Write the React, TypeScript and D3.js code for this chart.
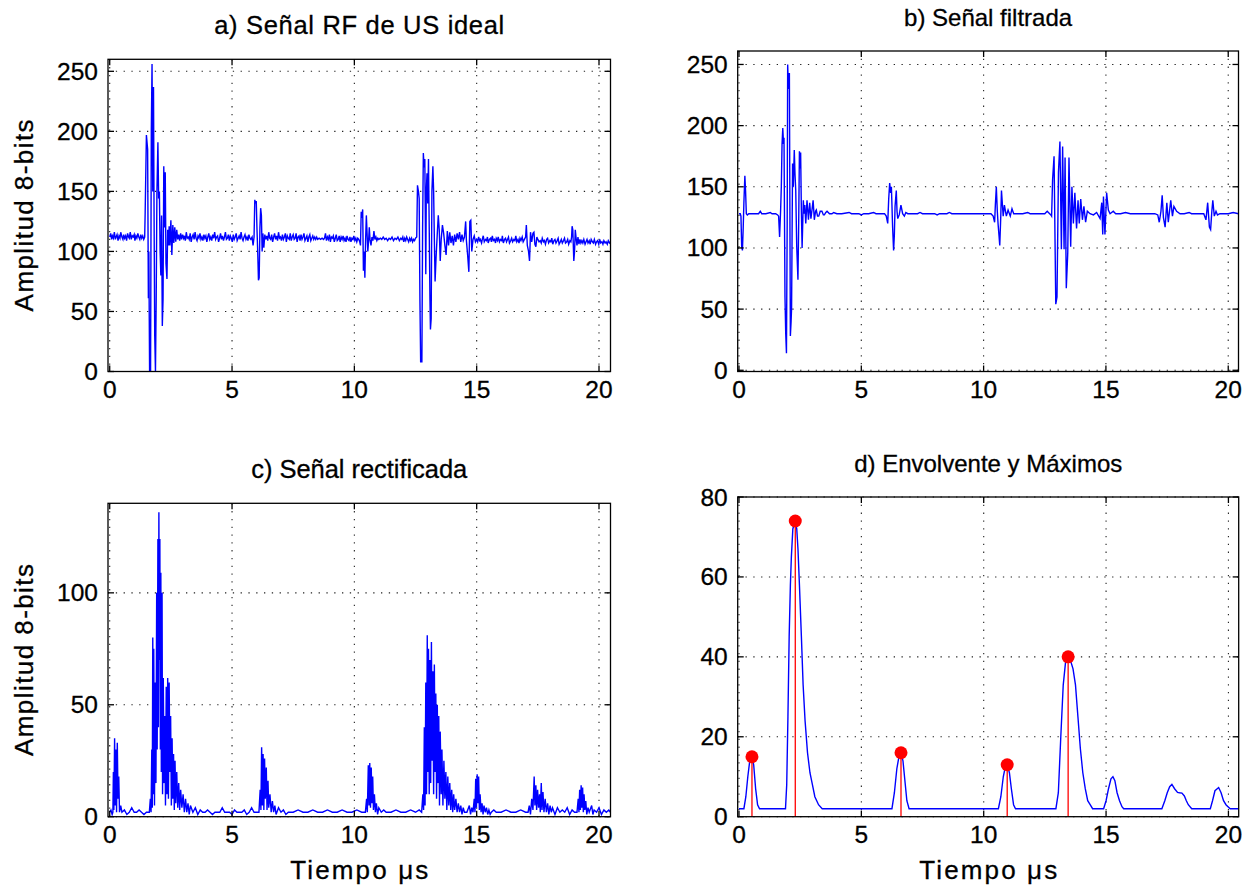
import React from 'react';
import * as d3 from 'd3';

type Pt = [number, number];

const xTickValues = [0, 5, 10, 15, 20];
const amplitudeTicks = [0, 50, 100, 150, 200, 250];
const rectifiedTicks = [0, 50, 100];
const envelopeTicks = [0, 20, 40, 60, 80];

const panelTitles = ['a) Señal RF de US ideal', 'b) Señal filtrada', 'c) Señal rectificada', 'd) Envolvente y Máximos'];
const yAxisLabel = 'Amplitud 8-bits';
const xAxisLabel = 'Tiempo μs';

const rfIdealSignal: Pt[] = [
  [0,112],[0.04,115],[0.08,110],[0.11,113],[0.15,111],[0.19,116],[0.23,110],[0.26,112],[0.3,114],[0.34,109],[0.38,113],[0.42,111],[0.45,116],[0.5,112],[0.54,110],[0.57,114],[0.61,111],[0.65,113],[0.69,109],[0.73,115],[0.77,112],[0.8,111],[0.84,116],[0.88,110],[0.92,113],[0.96,112],[1.0,114],[1.03,109],[1.07,113],[1.11,111],[1.15,115],[1.19,112],[1.23,110],[1.27,114],[1.31,111],[1.35,113],[1.39,110],[1.43,112],
  [1.45,133],[1.5,197],[1.55,185],[1.58,61],[1.6,100],[1.63,0],[1.67,0],[1.7,200],[1.73,256],[1.76,150],[1.79,237],[1.81,144],[1.84,30],[1.87,0],[1.9,60],[1.93,150],[1.97,191],[2.0,144],[2.03,150],[2.06,100],[2.09,80],[2.12,130],[2.15,38],[2.18,60],[2.21,171],[2.24,120],[2.27,166],[2.3,90],[2.34,77],[2.37,118],[2.4,105],[2.43,121],[2.46,105],[2.5,126],[2.54,97],[2.58,122],[2.62,107],[2.66,120],[2.7,108],[2.74,118],[2.78,110],[2.82,114],[2.86,109],[2.9,115],
  [2.94,110],[2.98,114],[3.02,111],[3.05,113],[3.09,109],[3.13,116],[3.17,111],[3.21,112],[3.25,110],[3.29,115],[3.33,108],[3.37,112],[3.41,114],[3.45,110],[3.49,116],[3.53,111],[3.57,109],[3.61,113],[3.65,111],[3.69,115],[3.73,110],[3.77,112],[3.81,109],[3.85,114],[3.89,111],[3.93,113],[3.97,108],[4.01,112],[4.05,115],[4.09,110],[4.13,112],[4.17,109],[4.21,114],[4.25,111],[4.29,116],[4.33,110],[4.37,112],[4.41,113],[4.45,108],[4.49,111],[4.53,115],[4.57,110],[4.61,113],[4.65,109],[4.69,112],[4.73,116],[4.77,110],[4.81,111],[4.85,114],[4.89,109],[4.93,113],[4.97,111],[5.01,108],[5.05,114],[5.09,110],[5.13,112],[5.17,115],[5.21,109],[5.25,111],[5.29,113],[5.33,110],[5.37,116],[5.41,111],[5.45,109],[5.49,112],[5.53,114],[5.57,110],[5.61,112],[5.65,109],[5.69,114],[5.73,111],[5.77,110],[5.82,112],
  [5.86,105],[5.9,112],[5.93,143],[5.96,140],[5.99,142],[6.02,118],[6.05,100],[6.08,76],[6.11,78],[6.14,120],[6.17,136],[6.2,130],[6.23,100],[6.26,115],[6.3,103],[6.34,114],[6.38,110],
  [6.42,113],[6.46,109],[6.5,116],[6.54,111],[6.58,110],[6.62,114],[6.66,108],[6.7,112],[6.74,115],[6.78,110],[6.82,113],[6.86,109],[6.9,116],[6.94,111],[6.98,112],[7.02,109],[7.06,114],[7.1,110],[7.14,112],[7.18,115],[7.22,108],[7.26,113],[7.3,111],[7.34,110],[7.38,115],[7.42,109],[7.46,112],[7.5,114],[7.54,110],[7.58,111],[7.62,115],[7.66,108],[7.7,112],[7.74,113],[7.78,109],[7.82,114],[7.86,110],[7.9,112],[7.94,115],[7.98,109],[8.02,111],[8.06,113],[8.1,108],[8.14,112],[8.18,114],[8.22,109],[8.26,111],[8.3,113],[8.34,110],[8.38,112],[8.42,110],[8.46,112],[8.5,110],[8.56,111],[8.62,110],[8.68,111],[8.74,110],[8.78,111],
  [8.82,115],[8.86,109],[8.9,112],[8.94,110],[8.98,114],[9.02,108],[9.06,112],[9.1,111],[9.14,113],[9.18,108],[9.22,111],[9.26,114],[9.3,109],[9.34,110],[9.38,113],[9.42,108],[9.46,112],[9.5,110],[9.54,113],[9.58,109],[9.62,111],[9.66,108],[9.7,113],[9.74,110],[9.78,109],[9.82,112],[9.86,108],[9.9,111],[9.94,110],[9.98,113],[10.02,109],[10.06,111],[10.1,108],[10.14,111],[10.18,110],[10.22,108],
  [10.25,105],[10.28,133],[10.31,128],[10.34,135],[10.37,84],[10.4,100],[10.43,78],[10.46,110],[10.49,130],[10.52,115],[10.55,100],[10.58,108],[10.61,120],[10.64,110],[10.68,105],
  [10.72,112],[10.76,109],[10.8,117],[10.84,110],[10.88,112],[10.92,109],[10.96,111],[11.0,110],[11.06,111],[11.12,110],[11.18,112],[11.24,110],[11.3,111],[11.36,109],[11.42,111],[11.48,110],[11.54,112],[11.6,109],[11.66,111],[11.72,110],[11.78,112],[11.84,109],[11.9,111],[11.94,110],[11.98,112],[12.02,108],[12.06,111],[12.1,109],[12.14,112],[12.18,110],[12.22,108],[12.26,111],[12.3,109],[12.34,111],[12.38,108],[12.42,110],[12.46,109],[12.5,111],
  [12.55,112],[12.58,155],[12.62,150],[12.65,144],[12.68,60],[12.71,8],[12.76,8],[12.79,120],[12.82,182],[12.85,170],[12.88,177],[12.92,81],[12.94,150],[12.97,165],[13.0,140],[13.03,177],[13.06,120],[13.09,60],[13.11,35],[13.14,44],[13.17,150],[13.21,171],[13.24,150],[13.27,110],[13.3,75],[13.34,95],[13.39,115],[13.43,130],[13.47,118],[13.51,92],[13.55,110],[13.6,122],[13.65,115],[13.7,105],[13.75,97],[13.8,117],[13.85,105],[13.9,116],[13.95,107],[14.0,113],[14.05,105],[14.1,114],[14.15,108],[14.2,115],[14.25,110],[14.3,116],[14.35,108],[14.4,114],[14.45,109],[14.5,112],[14.55,125],[14.58,109],[14.63,97],[14.68,83],[14.72,125],[14.76,126],[14.8,100],[14.85,110],[14.9,113],[14.95,108],
  [15.0,110],[15.04,108],[15.08,112],[15.12,109],[15.15,110],[15.2,107],[15.24,111],[15.27,113],[15.31,108],[15.36,110],[15.4,109],[15.44,112],[15.47,107],[15.52,110],[15.57,111],[15.6,108],[15.64,113],[15.68,109],[15.73,110],[15.77,107],[15.8,111],[15.85,109],[15.88,112],[15.93,108],[15.97,110],[16.02,109],[16.05,113],[16.09,107],[16.14,110],[16.18,111],[16.22,108],[16.26,110],[16.3,112],[16.34,107],[16.39,109],[16.43,111],[16.47,108],[16.52,110],[16.56,109],[16.6,113],[16.64,108],[16.69,110],[16.73,107],[16.77,111],[16.81,109],[16.86,112],[16.9,108],[16.95,110],
  [17.0,112],[17.03,122],[17.07,105],[17.12,100],[17.16,92],[17.2,116],[17.25,108],[17.3,115],[17.34,116],[17.38,106],[17.42,104],[17.46,112],[17.5,110],[17.55,108],
  [17.6,109],[17.64,107],[17.68,111],[17.73,108],[17.77,109],[17.81,106],[17.86,110],[17.9,111],[17.94,107],[17.99,109],[18.03,108],[18.07,111],[18.11,106],[18.16,109],[18.2,110],[18.24,107],[18.29,109],[18.33,111],[18.37,106],[18.42,108],[18.46,110],[18.5,107],[18.55,109],[18.59,111],[18.63,107],[18.68,108],[18.72,110],[18.76,106],[18.81,109],[18.85,108],
  [18.88,112],[18.9,121],[18.93,118],[18.97,92],[19.0,100],[19.03,118],[19.07,110],[19.1,105],[19.14,112],[19.18,106],[19.22,110],[19.26,107],
  [19.3,109],[19.34,107],[19.38,110],[19.43,106],[19.47,108],[19.51,110],[19.55,107],[19.6,109],[19.64,106],[19.68,110],[19.73,108],[19.77,107],[19.81,110],[19.86,106],[19.9,108],[19.94,109],[19.99,106],[20.03,110],[20.07,107],[20.12,108],[20.16,106],[20.2,109],[20.25,107],[20.29,108],[20.34,106],[20.38,109],[20.43,107],[20.47,108],
];

const filteredSignal: Pt[] = [
  [0,128],[0.05,128],[0.08,126],[0.11,101],[0.14,98],[0.17,115],[0.2,137],[0.24,159],[0.27,146],[0.3,128],[0.34,127],[0.4,128],[0.5,128],[0.6,128],[0.7,128],[0.8,128],[0.87,130],[0.93,128],[1.1,128],[1.28,129],[1.35,128],[1.5,128],[1.58,127],
  [1.62,126],[1.66,109],[1.7,130],[1.73,150],[1.76,185],[1.79,198],[1.82,185],[1.84,190],[1.88,60],[1.91,30],[1.94,14],[1.97,120],[1.99,250],[2.02,230],[2.06,243],[2.1,28],[2.13,40],[2.15,51],[2.19,169],[2.22,150],[2.26,180],[2.29,160],[2.32,147],[2.36,101],[2.41,74],[2.44,120],[2.47,179],[2.5,165],[2.52,178],[2.55,130],[2.58,100],[2.63,139],[2.66,128],[2.69,135],[2.73,120],[2.78,139],[2.84,123],[2.89,137],[2.94,124],[2.99,132],[3.03,139],[3.08,123],[3.13,130],[3.16,131],[3.21,126],[3.26,126],[3.32,130],[3.39,130],[3.45,127],[3.49,127],[3.55,129],[3.6,130],[3.7,128],[3.8,128],[3.87,129],
  [4.0,128],[4.2,128],[4.5,129],[4.6,128],[4.9,128],[5.0,127],[5.1,128],[5.3,128],[5.5,129],[5.6,128],[5.8,128],[5.9,128],
  [5.95,128],[6.02,126],[6.08,120],[6.12,140],[6.16,153],[6.2,145],[6.23,150],[6.28,117],[6.32,98],[6.35,110],[6.38,134],[6.43,147],[6.46,130],[6.49,124],[6.55,127],[6.62,135],[6.69,128],[6.76,126],[6.82,129],[6.9,128],
  [7.0,128],[7.3,128],[7.4,129],[7.5,128],[7.8,128],[8.0,128],[8.1,127],[8.2,128],[8.5,128],[8.6,129],[8.7,128],[9.0,128],[9.3,128],[9.6,128],[9.9,128],[10.1,128],
  [10.3,128],[10.39,126],[10.45,121],[10.48,135],[10.52,150],[10.56,130],[10.59,120],[10.63,110],[10.66,102],[10.7,125],[10.73,147],[10.77,135],[10.8,126],[10.85,135],[10.93,126],[11.0,131],[11.09,126],[11.16,132],[11.23,128],
  [11.4,128],[11.6,128],[11.8,129],[11.9,128],[12.1,128],[12.3,128],[12.5,128],[12.6,130],[12.7,128],
  [12.75,127],[12.78,126],[12.82,156],[12.88,175],[12.95,54],[13.0,60],[13.06,162],[13.12,187],[13.18,99],[13.23,183],[13.29,99],[13.33,174],[13.38,67],[13.44,96],[13.49,174],[13.56,101],[13.61,150],[13.67,120],[13.73,145],[13.8,116],[13.86,139],[13.91,120],[13.97,140],[14.04,123],[14.1,134],[14.17,121],[14.24,130],[14.35,128],[14.49,127],[14.62,129],[14.76,124],[14.83,137],[14.87,111],[14.9,142],[14.96,111],[15.03,145],[15.1,131],[15.17,128],[15.3,130],
  [15.4,128],[15.6,128],[15.8,129],[16.0,128],[16.3,128],[16.6,128],[16.8,128],[17.0,128],[17.12,127],
  [17.18,121],[17.25,130],[17.3,143],[17.35,125],[17.42,117],[17.49,137],[17.55,121],[17.6,130],[17.65,139],[17.72,126],[17.78,134],[17.89,130],[18.03,128],
  [18.2,128],[18.4,129],[18.5,128],[18.7,128],[18.9,128],
  [19.0,128],[19.09,123],[19.16,137],[19.23,117],[19.28,115],[19.33,130],[19.37,139],[19.43,126],[19.5,130],[19.56,127],[19.66,128],[19.8,128],[20.0,128],[20.2,129],[20.42,128],
];

const rectifiedSignal: Pt[] = [
  [0,2],[0.05,3],[0.1,1],[0.13,2],[0.15,20],[0.17,3],[0.2,35],[0.22,5],[0.25,30],[0.28,2],[0.31,33],[0.34,8],[0.37,18],[0.4,2],[0.45,5],[0.5,2],[0.6,3],[0.7,1],[0.8,2],[0.9,4],[1.0,2],[1.1,2],[1.2,3],[1.3,2],[1.4,1],[1.5,2],
  [1.62,2],[1.66,8],[1.69,2],[1.72,30],[1.74,4],[1.76,80],[1.78,10],[1.8,75],[1.83,5],[1.86,60],[1.89,15],[1.92,100],[1.94,30],[1.97,124],[1.99,40],[2.01,136],[2.03,70],[2.05,124],[2.07,30],[2.09,109],[2.11,20],[2.14,100],[2.16,10],[2.19,62],[2.22,15],[2.25,45],[2.28,5],[2.31,58],[2.34,10],[2.37,62],[2.4,8],[2.43,60],[2.46,20],[2.49,45],[2.52,5],[2.55,35],[2.58,8],[2.61,28],[2.64,3],[2.67,25],[2.7,6],[2.74,20],[2.78,4],[2.82,15],[2.86,3],[2.9,12],[2.95,4],[3.0,10],[3.05,2],[3.1,8],[3.15,2],[3.2,6],[3.25,1],[3.3,5],[3.4,2],[3.5,4],[3.6,1],[3.7,3],[3.8,2],[3.9,2],
  [4.0,3],[4.1,2],[4.2,1],[4.3,2],[4.5,2],[4.6,4],[4.7,2],[4.9,2],[5.0,1],[5.1,3],[5.2,2],[5.4,2],[5.5,3],[5.6,1],[5.7,2],[5.8,4],[5.9,2],[6.0,2],
  [6.1,2],[6.15,12],[6.18,3],[6.21,31],[6.24,5],[6.27,28],[6.3,3],[6.33,26],[6.36,8],[6.4,22],[6.43,3],[6.47,16],[6.5,4],[6.55,10],[6.6,2],[6.65,7],[6.7,2],[6.75,5],[6.8,1],[6.9,4],[7.0,2],[7.1,3],[7.2,1],[7.3,2],
  [7.5,2],[7.7,3],[7.9,2],[8.1,2],[8.3,3],[8.5,2],[8.7,2],[8.9,3],[9.1,2],[9.3,2],[9.5,3],[9.7,2],[9.9,2],[10.1,3],[10.3,2],
  [10.45,2],[10.5,8],[10.53,2],[10.57,23],[10.6,5],[10.63,24],[10.66,4],[10.69,22],[10.72,6],[10.75,18],[10.78,3],[10.82,10],[10.86,2],[10.9,6],[10.95,1],[11.0,4],[11.1,2],[11.2,3],[11.3,2],
  [11.5,2],[11.7,3],[11.9,2],[12.1,2],[12.3,3],[12.5,2],[12.65,3],[12.75,2],
  [12.8,10],[12.83,3],[12.86,40],[12.89,5],[12.92,60],[12.95,10],[12.98,81],[13.0,20],[13.03,75],[13.06,10],[13.09,70],[13.12,15],[13.15,78],[13.18,25],[13.21,65],[13.24,10],[13.27,68],[13.3,20],[13.33,55],[13.36,8],[13.39,50],[13.42,15],[13.45,45],[13.48,5],[13.51,38],[13.55,10],[13.58,30],[13.62,5],[13.66,25],[13.7,8],[13.74,20],[13.78,3],[13.82,18],[13.86,5],[13.9,15],[13.94,3],[13.98,12],[14.02,2],[14.06,10],[14.1,3],[14.15,8],[14.2,2],[14.25,6],[14.3,2],[14.35,5],[14.4,1],[14.45,4],[14.5,2],
  [14.6,2],[14.7,5],[14.75,1],[14.8,4],[14.85,2],[14.9,8],[14.93,2],[14.96,17],[14.99,4],[15.02,19],[15.05,6],[15.08,18],[15.11,3],[15.14,10],[15.18,2],[15.22,6],[15.26,1],[15.3,5],[15.35,2],[15.4,4],[15.45,1],[15.5,3],[15.55,1],
  [15.6,2],[15.7,3],[15.8,2],[16.0,2],[16.2,3],[16.4,2],[16.6,2],[16.8,3],[17.0,2],
  [17.1,2],[17.15,5],[17.2,1],[17.25,8],[17.3,3],[17.35,18],[17.38,5],[17.42,14],[17.45,3],[17.49,12],[17.53,4],[17.57,10],[17.6,2],[17.64,15],[17.67,3],[17.71,11],[17.75,2],[17.8,8],[17.85,2],[17.9,6],[17.95,1],[18.0,5],[18.05,2],[18.1,4],[18.2,1],[18.3,4],[18.4,2],[18.5,3],[18.6,2],[18.7,4],[18.8,1],[18.9,3],[19.0,2],
  [19.1,2],[19.15,8],[19.18,2],[19.21,12],[19.24,3],[19.27,14],[19.3,4],[19.33,13],[19.36,2],[19.39,10],[19.42,3],[19.46,7],[19.5,1],[19.55,4],[19.6,2],[19.7,5],[19.75,1],[19.8,3],[19.9,2],[20.0,4],[20.1,1],[20.2,3],[20.3,2],[20.4,3],[20.47,2],
];

const envelopeSignal: Pt[] = [
  [0,2],[0.2,2],[0.28,5],[0.36,10],[0.44,14],[0.53,15],[0.6,13],[0.68,7],[0.76,3],[0.84,2],
  [1.9,2],[1.95,8],[2.0,25],[2.05,45],[2.1,58],[2.14,65],[2.2,72],[2.29,74],[2.36,72],[2.41,67],[2.47,58],[2.55,45],[2.62,33],[2.7,24],[2.8,16],[2.9,11],[3.0,8],[3.1,5],[3.25,3],[3.4,2],
  [6.25,2],[6.35,6],[6.45,12],[6.55,15.5],[6.62,16],[6.7,14],[6.78,9],[6.86,4],[6.95,2],
  [10.6,2],[10.7,5],[10.8,10],[10.9,13],[10.96,13],[11.05,11],[11.13,7],[11.22,3],[11.3,2],
  [12.95,2],[13.05,6],[13.15,20],[13.25,33],[13.35,39],[13.45,40],[13.55,39],[13.65,37],[13.75,33],[13.85,25],[13.95,17],[14.05,11],[14.15,7],[14.25,4],[14.35,3],[14.45,2],
  [14.9,2],[15.0,4],[15.1,7],[15.2,9.5],[15.28,10],[15.36,9],[15.45,6],[15.55,4],[15.65,2.5],[15.72,2],
  [17.28,2],[17.4,4],[17.5,6],[17.6,7.5],[17.69,8.1],[17.8,7],[17.92,6.1],[18.0,6],[18.1,5.9],[18.2,5.2],[18.28,4],[18.36,3],[18.5,2],
  [19.26,2],[19.35,4],[19.45,6.5],[19.6,7.3],[19.7,6],[19.8,4],[19.9,3],[20.07,2],[20.42,2],
];

const peakTimes = [0.53, 2.3, 6.62, 10.96, 13.45];
const peakValues = [15, 74, 16, 13, 40];

const FONT = '"Liberation Sans", Arial, Helvetica, sans-serif';
const FS = 24.5;

interface PanelSpec {
  id: string;
  left: number; top: number; right: number; bottom: number;
  xDomain: [number, number];
  yDomain: [number, number];
  yTicks: number[];
  data: Pt[];
  title: string;
  titleSize: number;
  titleLength?: number;
  showYLabel: boolean;
  showXLabel: boolean;
  peaks?: { t: number[]; v: number[] };
}

const textStyle = { fontFamily: FONT, fill: '#000', stroke: '#000', strokeWidth: 0.3 };

function Panel({ spec }: { spec: PanelSpec }) {
  const { left, top, right, bottom } = spec;
  const x = d3.scaleLinear().domain(spec.xDomain).range([left, right]);
  const y = d3.scaleLinear().domain(spec.yDomain).range([bottom, top]);
  const line = d3.line<Pt>().x((d) => x(d[0])).y((d) => y(d[1]));
  const tickLen = 6;
  const grid = { stroke: '#222', strokeWidth: 1.1, strokeDasharray: '1.3 6.5' };
  const clipId = `clip-${spec.id}`;
  return (
    <g>
      <defs>
        <clipPath id={clipId}>
          <rect x={left} y={top} width={right - left} height={bottom - top} />
        </clipPath>
      </defs>
      <rect x={left} y={top} width={right - left} height={bottom - top} fill="#fff" />
      {xTickValues.map((t) => (
        <line key={`gx${t}`} x1={x(t)} x2={x(t)} y1={top} y2={bottom} {...grid} />
      ))}
      {spec.yTicks.map((t) => (
        <line key={`gy${t}`} x1={left} x2={right} y1={y(t)} y2={y(t)} {...grid} />
      ))}
      <g clipPath={`url(#${clipId})`}>
        <path d={line(spec.data) || ''} fill="none" stroke="#0000ff" strokeWidth={1.4} strokeLinejoin="miter" />
        {spec.peaks &&
          spec.peaks.t.map((t, i) => (
            <g key={`pk${i}`}>
              <line x1={x(t)} x2={x(t)} y1={y(0)} y2={y(spec.peaks!.v[i])} stroke="#ff0000" strokeWidth={1.3} />
              <circle cx={x(t)} cy={y(spec.peaks!.v[i])} r={6.5} fill="#ff0000" />
            </g>
          ))}
      </g>
      <rect x={left} y={top} width={right - left} height={bottom - top} fill="none" stroke="#000" strokeWidth={1.3} />
      {xTickValues.map((t) => (
        <g key={`tx${t}`}>
          <line x1={x(t)} x2={x(t)} y1={bottom} y2={bottom - tickLen} stroke="#000" strokeWidth={1.3} />
          <line x1={x(t)} x2={x(t)} y1={top} y2={top + tickLen} stroke="#000" strokeWidth={1.3} />
          <text x={x(t)} y={bottom + 26.5} textAnchor="middle" fontSize={FS} {...textStyle}>{t}</text>
        </g>
      ))}
      {spec.yTicks.map((t) => (
        <g key={`ty${t}`}>
          <line x1={left} x2={left + tickLen} y1={y(t)} y2={y(t)} stroke="#000" strokeWidth={1.3} />
          <line x1={right} x2={right - tickLen} y1={y(t)} y2={y(t)} stroke="#000" strokeWidth={1.3} />
          <text x={left - 10} y={y(t) + 8.5} textAnchor="end" fontSize={FS} {...textStyle}>{t}</text>
        </g>
      ))}
      <text
        x={(left + right) / 2}
        y={top - 25}
        textAnchor="middle"
        fontSize={spec.titleSize}
        textLength={spec.titleLength}
        lengthAdjust={spec.titleLength ? 'spacing' : undefined}
        {...textStyle}
      >
        {spec.title}
      </text>
      {spec.showYLabel && (
        <text
          transform={`translate(33,${(top + bottom) / 2}) rotate(-90)`}
          textAnchor="middle"
          fontSize={26}
          textLength={192}
          lengthAdjust="spacing"
          {...textStyle}
        >
          {yAxisLabel}
        </text>
      )}
      {spec.showXLabel && (
        <text
          x={(left + right) / 2}
          y={879}
          textAnchor="middle"
          fontSize={26}
          textLength={138}
          lengthAdjust="spacing"
          {...textStyle}
        >
          {xAxisLabel}
        </text>
      )}
    </g>
  );
}

const panels: PanelSpec[] = [
  { id: 'a', left: 108, top: 59.3, right: 610.5, bottom: 371.5, xDomain: [-0.07, 20.47], yDomain: [0, 260], yTicks: amplitudeTicks, data: rfIdealSignal, title: panelTitles[0], titleSize: 25.5, titleLength: 290, showYLabel: true, showXLabel: false },
  { id: 'b', left: 737.7, top: 51, right: 1238.5, bottom: 371.5, xDomain: [-0.053, 20.42], yDomain: [-1, 261], yTicks: amplitudeTicks, data: filteredSignal, title: panelTitles[1], titleSize: 24, showYLabel: false, showXLabel: false },
  { id: 'c', left: 108, top: 503.3, right: 610.5, bottom: 816.7, xDomain: [-0.07, 20.47], yDomain: [0, 140], yTicks: rectifiedTicks, data: rectifiedSignal, title: panelTitles[2], titleSize: 25.5, titleLength: 216, showYLabel: true, showXLabel: true },
  { id: 'd', left: 737.7, top: 497, right: 1238.7, bottom: 816.7, xDomain: [-0.053, 20.42], yDomain: [0, 80], yTicks: envelopeTicks, data: envelopeSignal, title: panelTitles[3], titleSize: 24, showYLabel: false, showXLabel: true, peaks: { t: peakTimes, v: peakValues } },
];

export default function App() {
  return (
    <svg width={1256} height={892} viewBox="0 0 1256 892" style={{ position: 'absolute', left: 0, top: 0, background: '#fff' }}>
      <rect width={1256} height={892} fill="#fff" />
      {panels.map((p) => (
        <Panel key={p.id} spec={p} />
      ))}
    </svg>
  );
}
